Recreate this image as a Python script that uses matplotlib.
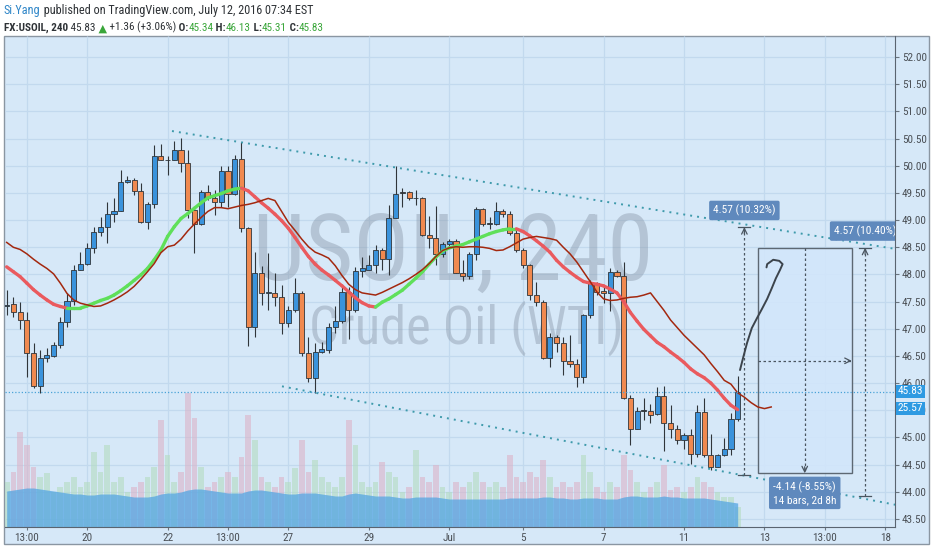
import matplotlib
matplotlib.use("Agg")
import matplotlib.pyplot as plt
import matplotlib.transforms as mtransforms
from matplotlib.patches import Rectangle
from matplotlib.collections import LineCollection
from matplotlib import font_manager as fm
import numpy as np

# ---------------- data ----------------
opens = [47.42, 47.46, 47.30, 47.17, 46.56, 45.94, 46.47, 46.50, 46.70, 47.13,
         47.52, 48.09, 48.20, 48.48, 48.79, 48.87, 49.11, 49.17, 49.70, 49.74,
         49.54, 48.97, 49.30, 50.18, 50.10, 50.10, 50.29, 50.05, 49.19, 48.93,
         49.51, 49.41, 49.34, 49.91, 49.49, 50.12, 48.85, 47.04, 48.03, 47.66,
         47.65, 47.58, 47.10, 47.34, 47.65, 46.55, 46.10, 46.57, 46.61, 47.04,
         47.15, 47.68, 47.34, 48.07, 48.09, 48.17, 48.45, 48.28, 49.03, 49.50,
         49.51, 49.40, 49.40, 48.73, 48.68, 48.38, 48.56, 48.62, 48.03, 47.98,
         48.38, 49.20, 48.93, 48.93, 49.17, 49.12, 48.77, 48.45, 48.17, 47.62,
         47.50, 46.47, 46.84, 46.73, 46.41, 46.36, 46.12, 47.25, 47.84, 47.70,
         47.65, 48.04, 47.97, 45.73, 45.16, 45.49, 45.48, 45.43, 45.76, 45.27,
         45.16, 44.95, 45.05, 44.70, 45.46, 44.67, 44.46, 44.67, 44.78, 45.34]
highs = [47.71, 47.59, 47.50, 47.30, 46.73, 46.60, 46.64, 46.76, 47.22, 47.65,
         48.17, 48.41, 48.57, 48.88, 49.05, 49.34, 49.40, 49.92, 49.82, 49.77,
         49.68, 49.34, 50.38, 50.41, 50.18, 50.45, 50.51, 50.29, 49.22, 49.55,
         49.65, 49.55, 49.99, 49.99, 50.20, 50.43, 48.88, 48.42, 48.15, 48.39,
         48.02, 47.80, 47.41, 47.93, 47.70, 46.85, 46.73, 46.76, 47.10, 47.41,
         47.77, 47.77, 48.14, 48.33, 48.36, 48.54, 48.48, 49.28, 49.99, 49.59,
         49.54, 49.55, 49.43, 49.08, 49.26, 48.60, 48.66, 48.65, 48.26, 48.42,
         49.25, 49.22, 49.06, 49.34, 49.20, 49.16, 48.82, 48.48, 48.20, 47.87,
         47.53, 46.93, 46.88, 46.85, 46.88, 46.45, 47.28, 47.90, 47.87, 47.80,
         48.11, 48.09, 48.23, 45.78, 45.56, 45.72, 45.62, 45.93, 45.94, 45.59,
         45.22, 45.08, 45.16, 45.59, 45.72, 45.06, 44.69, 44.98, 45.44, 46.13]
lows = [47.25, 47.21, 46.99, 46.12, 45.90, 45.82, 46.39, 46.48, 46.64, 47.04,
        47.44, 48.08, 48.17, 48.39, 48.70, 48.57, 48.97, 49.16, 49.68, 49.46,
        48.94, 48.83, 49.22, 50.10, 49.83, 50.10, 49.89, 49.03, 48.39, 48.91,
        49.37, 49.09, 49.25, 49.25, 49.46, 48.79, 46.68, 46.84, 47.44, 47.34,
        47.41, 46.90, 47.04, 47.31, 46.50, 46.02, 45.82, 46.55, 46.55, 46.92,
        47.10, 46.82, 47.31, 47.96, 48.08, 48.02, 48.09, 47.99, 49.03, 49.25,
        49.37, 49.28, 48.70, 48.48, 48.17, 48.33, 48.51, 48.02, 47.88, 47.91,
        48.27, 48.89, 48.83, 48.91, 49.06, 48.73, 48.42, 48.11, 47.53, 47.41,
        46.45, 46.30, 46.58, 46.15, 46.30, 45.93, 46.01, 47.19, 47.62, 47.47,
        47.33, 47.96, 45.70, 44.86, 45.15, 45.32, 45.26, 45.41, 44.75, 44.98,
        44.88, 44.79, 44.51, 44.64, 44.64, 44.40, 44.45, 44.65, 44.67, 45.31]
closes = [47.44, 47.30, 47.16, 46.56, 45.94, 46.47, 46.51, 46.70, 47.13, 47.52,
          48.09, 48.20, 48.48, 48.79, 48.87, 49.11, 49.17, 49.70, 49.74, 49.54,
          48.97, 49.30, 50.18, 50.11, 50.10, 50.29, 50.05, 49.19, 48.93, 49.51,
          49.40, 49.34, 49.91, 49.49, 50.12, 48.85, 47.04, 48.03, 47.65, 47.67,
          47.58, 47.10, 47.34, 47.65, 46.55, 46.10, 46.57, 46.62, 47.04, 47.15,
          47.68, 47.34, 48.07, 48.11, 48.17, 48.45, 48.28, 49.03, 49.49, 49.50,
          49.40, 49.40, 48.73, 48.68, 48.38, 48.56, 48.62, 48.03, 47.98, 48.38,
          49.20, 48.93, 48.93, 49.17, 49.12, 48.77, 48.45, 48.17, 47.62, 47.50,
          46.47, 46.84, 46.73, 46.41, 46.36, 46.12, 47.25, 47.84, 47.68, 47.65,
          48.04, 47.97, 45.73, 45.16, 45.49, 45.49, 45.42, 45.76, 45.27, 45.16,
          44.95, 45.05, 44.70, 45.46, 44.67, 44.46, 44.67, 44.78, 45.33, 45.83]
volumes = [45, 55, 95, 82, 60, 50, 54, 35, 40, 45,
           50, 40, 45, 75, 55, 82, 45, 50, 35, 40,
           45, 50, 60, 107, 72, 45, 55, 134, 109, 60,
           40, 45, 50, 55, 50, 70, 112, 87, 50, 45,
           40, 50, 45, 59, 87, 55, 67, 50, 45, 40,
           50, 107, 82, 45, 40, 45, 65, 55, 50, 35,
           40, 77, 50, 45, 62, 40, 35, 45, 40, 45,
           55, 45, 40, 45, 40, 72, 50, 45, 55, 50,
           67, 50, 40, 45, 40, 45, 72, 55, 40, 35,
           45, 40, 72, 57, 45, 35, 40, 45, 62, 37,
           40, 35, 40, 50, 45, 40, 35, 30, 30, 20]
vol_ma = [36, 37, 38, 39, 39, 38, 37, 36, 35, 34,
          33, 33, 32, 32, 33, 33, 33, 32, 31, 30,
          30, 30, 31, 33, 34, 34, 35, 37, 38, 38,
          37, 36, 35, 34, 34, 34, 36, 37, 37, 36,
          35, 34, 33, 33, 34, 34, 34, 33, 32, 31,
          31, 33, 34, 33, 32, 31, 31, 31, 30, 29,
          29, 30, 30, 30, 30, 29, 28, 28, 28, 28,
          28, 28, 28, 28, 28, 29, 29, 29, 29, 29,
          30, 30, 29, 29, 28, 28, 29, 29, 29, 28,
          28, 28, 30, 31, 31, 30, 30, 30, 31, 30,
          30, 29, 29, 29, 29, 28, 27, 26, 25, 24]
ma_fast = [48.14, 48.05, 47.96, 47.84, 47.72, 47.62, 47.53, 47.45, 47.41, 47.38,
           47.38, 47.38, 47.42, 47.47, 47.52, 47.56, 47.62, 47.70, 47.79, 47.89,
           47.99, 48.11, 48.27, 48.45, 48.70, 48.88, 49.03, 49.12, 49.22, 49.32,
           49.41, 49.45, 49.49, 49.54, 49.57, 49.59, 49.54, 49.43, 49.32, 49.22,
           49.11, 48.99, 48.85, 48.68, 48.50, 48.33, 48.19, 48.08, 47.99, 47.89,
           47.79, 47.68, 47.57, 47.48, 47.42, 47.40, 47.49, 47.55, 47.63, 47.71,
           47.82, 47.93, 48.05, 48.19, 48.32, 48.43, 48.49, 48.52, 48.55, 48.60,
           48.65, 48.70, 48.75, 48.79, 48.82, 48.84, 48.84, 48.79, 48.71, 48.62,
           48.52, 48.41, 48.26, 48.14, 48.04, 47.95, 47.87, 47.84, 47.82, 47.79,
           47.73, 47.66, 47.50, 47.30, 47.14, 46.99, 46.87, 46.75, 46.67, 46.57,
           46.48, 46.38, 46.26, 46.17, 46.10, 46.00, 45.87, 45.72, 45.59, 45.51]
ma_slow = [48.59, 48.50, 48.46, 48.38, 48.28, 48.19, 48.11, 48.01, 47.84, 47.65,
           47.53, 47.47, 47.44, 47.41, 47.42, 47.47, 47.53, 47.60, 47.68, 47.78,
           47.91, 48.05, 48.20, 48.40, 48.51, 48.54, 48.65, 48.80, 48.93, 49.05,
           49.16, 49.23, 49.23, 49.21, 49.24, 49.27, 49.29, 49.32, 49.36, 49.40,
           49.36, 49.16, 48.96, 48.81, 48.65, 48.51, 48.41, 48.36, 48.30, 48.16,
           47.98, 47.82, 47.72, 47.66, 47.64, 47.62, 47.67, 47.73, 47.79, 47.85,
           47.92, 48.00, 48.09, 48.20, 48.33, 48.44, 48.49, 48.51, 48.50, 48.51,
           48.51, 48.50, 48.48, 48.44, 48.45, 48.51, 48.58, 48.65, 48.68, 48.70,
           48.68, 48.66, 48.63, 48.50, 48.38, 48.23, 48.05, 47.87, 47.68, 47.55,
           47.52, 47.53, 47.56, 47.58, 47.59, 47.62, 47.66, 47.50, 47.34, 47.16,
           47.02, 46.88, 46.76, 46.64, 46.52, 46.36, 46.21, 46.05, 45.98, 45.82,
           45.74, 45.64, 45.56, 45.53, 45.56]

tick_pos = [3, 12, 24, 33, 42, 54, 66, 77, 89, 101, 113, 122, 131]
tick_labels = ["13:00", "20", "22", "13:00", "27", "29", "Jul", "5", "7", "11", "13", "13:00", "18"]
price_ticks = [43.5, 44.0, 44.5, 45.0, 45.5, 46.0, 46.5, 47.0, 47.5, 48.0,
               48.5, 49.0, 49.5, 50.0, 50.5, 51.0, 51.5, 52.0]

upper_trend_x = [24.65, 132.5]
upper_trend_y = [50.64, 48.47]
lower_trend_x = [41.05, 132.5]
lower_trend_y = [45.94, 43.76]
last_price = 45.83
vol_label = "25.57"

meas1_x, meas1_lo, meas1_hi = 110.0, 44.30, 48.87
meas1_label = "4.57 (10.32%)"
rect_x0, rect_x1, rect_lo, rect_hi = 112.0, 126.0, 44.34, 48.48
rect_label = "-4.14 (-8.55%)\n14 bars, 2d 8h"
meas3_x, meas3_lo, meas3_hi = 128.0, 43.92, 48.49
meas3_label = "4.57 (10.40%)"

pen_x = [109.35, 109.8, 110.4, 111.1, 111.9, 112.6, 113.4, 114.1, 114.7, 115.3,
         115.7, 115.2, 114.3, 113.4, 113.3]
pen_y = [46.24, 46.46, 46.74, 47.01, 47.20, 47.36, 47.55, 47.75, 47.93, 48.08,
         48.19, 48.25, 48.27, 48.19, 48.13]

# ---------------- style ----------------
W, H = 932, 550
BG = "#d6e8f8"
GRID = "#c2d9ee"
UP = "#3a93dc"
DN = "#f0894f"
EDGE = "#30353a"
GREEN_MA = "#5fe05a"
RED_MA = "#ea5a5e"
SLOW_MA = "#a3280f"
TXT = "#4a4f55"

names = {f.name for f in fm.fontManager.ttflist}
NARROW = "DejaVu Sans"
for cand in ["Roboto Condensed", "Liberation Sans Narrow", "Arial Narrow", "Open Sans Condensed",
             "Roboto", "Liberation Sans"]:
    if cand in names:
        NARROW = cand
        break
FAM = [NARROW, "DejaVu Sans"]
plt.rcParams["font.family"] = FAM

fig = plt.figure(figsize=(W / 100, H / 100), dpi=100)
fig.patch.set_facecolor("white")

ax_h = fig.add_axes([0, 0, 1, 1], zorder=0)
ax_h.set_xlim(0, W)
ax_h.set_ylim(H, 0)
ax_h.axis("off")
ax_h.add_patch(Rectangle((4, 35.5), 925, 508.5, facecolor=BG, edgecolor="#8a96a2", lw=1.0))

rect = [5 / W, (H - 527) / H, 890 / W, 491 / H]
XL = (-0.25, 132.46)
YL = (43.35, 52.39)

ax = fig.add_axes(rect, zorder=2)
ax.patch.set_alpha(0)
ax.set_xlim(*XL)
ax.set_ylim(*YL)

ax_v = fig.add_axes(rect, zorder=1)
ax_v.patch.set_alpha(0)
ax_v.set_xlim(*XL)
ax_v.set_ylim(0, 491)
ax_v.axis("off")

tv = mtransforms.blended_transform_factory(ax_v.transData, ax_v.transAxes)
th = mtransforms.blended_transform_factory(ax_v.transAxes, ax.transData)
ax_v.vlines(tick_pos, 0, 1, transform=tv, color=GRID, lw=0.9, zorder=0)
ax_v.hlines(price_ticks, 0, 1, transform=th, color=GRID, lw=0.9, zorder=0)

wm1 = ax_v.text(0.503, 0.555, "USOIL, 240", transform=ax_v.transAxes, ha="center", va="center",
                fontsize=60, color="#8c9aab", alpha=0.45, family=FAM, zorder=0.5)
wm2 = ax_v.text(0.518, 0.405, "Crude Oil (WTI)", transform=ax_v.transAxes, ha="center", va="center",
                fontsize=33, color="#8c9aab", alpha=0.45, family=FAM, zorder=0.5)

idx = np.arange(len(closes))
vcols = ["#b4dcc0" if c >= o else "#dcb4c8" for o, c in zip(opens, closes)]
ax_v.bar(idx, volumes, width=0.85, color=vcols, alpha=0.6, zorder=1, linewidth=0)
ax_v.fill_between(idx, 0, vol_ma, color="#55a6e2", alpha=0.75, lw=0, zorder=2)

ax.vlines(idx, lows, highs, color=EDGE, lw=0.8, zorder=3)
bodies = [max(abs(c - o), 0.012) for o, c in zip(opens, closes)]
bottoms = [min(o, c) for o, c in zip(opens, closes)]
ccols = [UP if c > o else (DN if c < o else EDGE) for o, c in zip(opens, closes)]
ax.bar(idx, bodies, bottom=bottoms, width=0.76, color=ccols, edgecolor=EDGE, lw=0.6, zorder=4)

xs_f = np.arange(len(ma_fast))
pts = np.array([xs_f, ma_fast]).T.reshape(-1, 1, 2)
segs = np.concatenate([pts[:-1], pts[1:]], axis=1)
seg_cols = [GREEN_MA if ma_fast[i + 1] >= ma_fast[i] else RED_MA for i in range(len(ma_fast) - 1)]
ax.add_collection(LineCollection(segs, colors=seg_cols, linewidths=2.4, zorder=5, capstyle="round"))
ax.plot(np.arange(len(ma_slow)), ma_slow, color=SLOW_MA, lw=1.1, zorder=6)

ax.plot(upper_trend_x, upper_trend_y, color="#3e9aab", lw=1.4, ls=(0, (1, 2.6)), zorder=6)
ax.plot(lower_trend_x, lower_trend_y, color="#3e9aab", lw=1.4, ls=(0, (1, 2.6)), zorder=6)
ax.axhline(last_price, color="#4aa3d8", lw=0.9, ls=(0, (1, 1.6)), zorder=6)

DR = "#4a5560"
LBL = "#5f89bd"
LFS = 8.2


def vmeasure(x, lo, hi, label, clip=False):
    ax.plot([x, x], [lo, hi], color=DR, lw=0.9, ls=(0, (2, 2)), zorder=7)
    ax.plot([x - 0.9, x + 0.9], [hi, hi], color=DR, lw=0.9, zorder=7)
    ax.plot([x - 0.9, x + 0.9], [lo, lo], color=DR, lw=0.9, zorder=7)
    ax.annotate("", xy=(x, hi), xytext=(x, hi - 0.12),
                arrowprops=dict(arrowstyle="->", color=DR, lw=0.9, shrinkA=0, shrinkB=0), zorder=7)
    t = ax.annotate(label, xy=(x, hi), xytext=(0, 11), textcoords="offset pixels", ha="center", va="bottom",
                    fontsize=LFS, color="white", zorder=8, annotation_clip=False,
                    bbox=dict(boxstyle="round,pad=0.35,rounding_size=0.15", fc=LBL, ec="none"))
    if clip:
        t.set_clip_on(True)
        t.set_clip_box(ax.bbox)
    return t


vmeasure(meas1_x, meas1_lo, meas1_hi, meas1_label)
vmeasure(meas3_x, meas3_lo, meas3_hi, meas3_label, clip=True)

ax.add_patch(Rectangle((rect_x0, rect_lo), rect_x1 - rect_x0, rect_hi - rect_lo,
                       facecolor="#d2e6fb", edgecolor="#505a64", lw=1.0, alpha=0.9, zorder=5.5))
mid_x = (rect_x0 + rect_x1) / 2
mid_y = (rect_lo + rect_hi) / 2
ax.plot([mid_x, mid_x], [rect_hi, rect_lo], color=DR, lw=0.9, ls=(0, (2, 2)), zorder=7)
ax.plot([rect_x0, rect_x1], [mid_y, mid_y], color=DR, lw=0.9, ls=(0, (2, 2)), zorder=7)
ax.annotate("", xy=(mid_x, rect_lo), xytext=(mid_x, rect_lo + 0.12),
            arrowprops=dict(arrowstyle="->", color=DR, lw=0.9, shrinkA=0, shrinkB=0), zorder=7)
ax.annotate("", xy=(rect_x1, mid_y), xytext=(rect_x1 - 0.5, mid_y),
            arrowprops=dict(arrowstyle="->", color=DR, lw=0.9, shrinkA=0, shrinkB=0), zorder=7)
ax.annotate(rect_label, xy=(mid_x, rect_lo), xytext=(0, -8), textcoords="offset pixels",
            ha="center", va="top", fontsize=LFS, color="white", zorder=8, linespacing=1.3,
            bbox=dict(boxstyle="round,pad=0.35,rounding_size=0.15", fc=LBL, ec="none"))

ax.plot(pen_x, pen_y, color="#3c444c", lw=1.4, zorder=8, solid_capstyle="round", solid_joinstyle="round")

for s in ["top", "left"]:
    ax.spines[s].set_visible(False)
ax.spines["right"].set_color("#5a6470")
ax.spines["bottom"].set_color("#5a6470")
ax.yaxis.tick_right()
ax.set_yticks(price_ticks)
ax.set_yticklabels([f"{p:.2f}" for p in price_ticks])
ax.set_xticks(tick_pos)
ax.set_xticklabels(tick_labels)
ax.tick_params(axis="y", direction="out", length=3, width=0.8, color="#6a7580",
               labelsize=8.0, labelcolor=TXT, pad=2)
ax.tick_params(axis="x", direction="out", length=2.5, width=0.8, color="#6a7580",
               labelsize=8.0, labelcolor=TXT, pad=1.5)

for off, s in [(1, f"{last_price:.2f}"), (-16, vol_label)]:
    ax.annotate(s, xy=(1, last_price), xycoords=("axes fraction", "data"),
                xytext=(3, off), textcoords="offset pixels", ha="left", va="center", fontsize=8.2,
                color="white", zorder=9, annotation_clip=False,
                bbox=dict(boxstyle="square,pad=0.15", fc="#2e9ae2", ec="none"))

GREENT = "#3aa63a"
DARK = "#2e3236"


def chain(x, y, parts):
    out = []
    prev = None
    for s, col, wt in parts:
        if prev is None:
            prev = ax_h.text(x, y, s, color=col, fontweight=wt, fontsize=8.8, ha="left",
                             va="baseline", family=FAM)
        else:
            prev = ax_h.annotate(s, xy=(1, 0), xycoords=prev, ha="left", va="bottom", color=col,
                                 fontweight=wt, fontsize=8.8, family=FAM)
        out.append(prev)
    return out


line1 = chain(4, 14, [("Si.Yang", "#2f86c8", "normal"),
                      (" published on TradingView.com, July 12, 2016 07:34 EST", DARK, "normal")])
line2 = chain(4, 31, [("FX:USOIL, 240", DARK, "bold"), (" 45.83", DARK, "normal"), (" \u25b2", GREENT, "normal"),
                      (" +1.36 (+3.06%)", DARK, "normal"), (" O:", DARK, "bold"), ("45.34", GREENT, "normal"),
                      (" H:", DARK, "bold"), ("46.13", GREENT, "normal"), (" L:", DARK, "bold"),
                      ("45.31", GREENT, "normal"), (" C:", DARK, "bold"), ("45.83", GREENT, "normal")])

fig.canvas.draw()
R = fig.canvas.get_renderer()


def fit_group(texts, target):
    for _ in range(3):
        fig.canvas.draw()
        bbs = [t.get_window_extent(R) for t in texts]
        width = max(b.x1 for b in bbs) - min(b.x0 for b in bbs)
        k = target / width
        for t in texts:
            t.set_fontsize(t.get_fontsize() * k)


fit_group(line1, 311)
fit_group(line2, 322)
fit_group([wm1], 400)
fit_group([wm2], 315)

fig.savefig("out.png", dpi=100, facecolor=fig.get_facecolor())
